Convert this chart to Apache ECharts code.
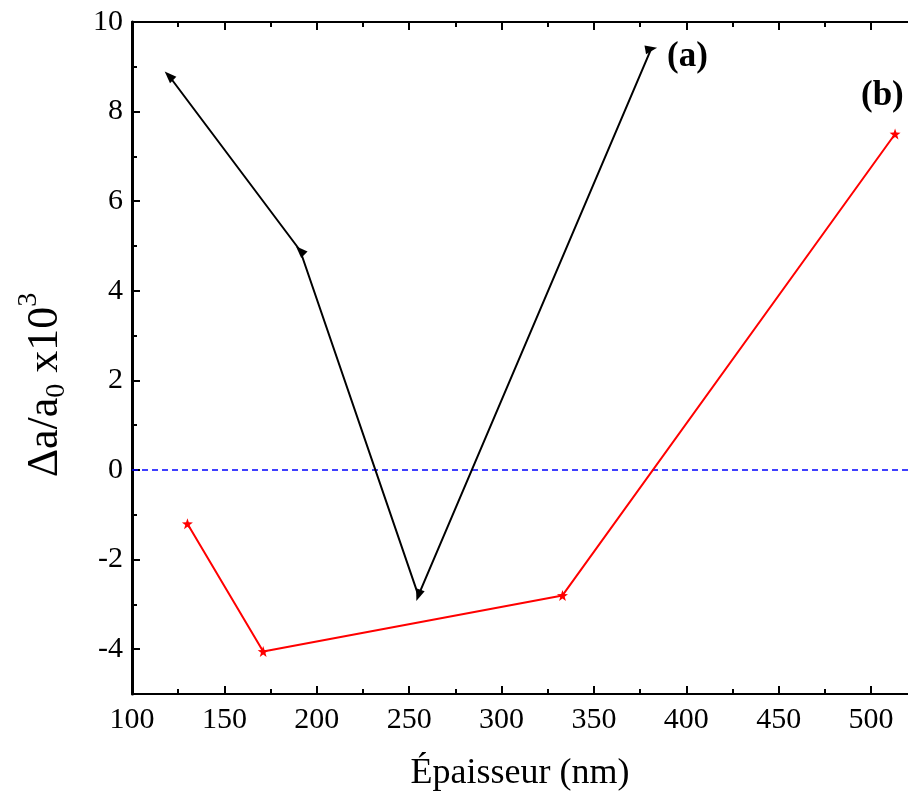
<!DOCTYPE html>
<html>
<head>
<meta charset="utf-8">
<script src="https://cdn.jsdelivr.net/npm/echarts@6/dist/echarts.min.js"></script>
<style>html,body{margin:0;padding:0;background:#fff}#c{width:908px;height:792px}</style>
</head>
<body>
<div id="c"></div>
<script>
// Data
const seriesAX = [120, 191, 255, 381];
const seriesAY = [8.8, 4.9, -2.8, 9.4];
const seriesBX = [130, 171, 333, 513];
const seriesBY = [-1.2, -4.05, -2.8, 7.5];
const xTickLabels = [100, 150, 200, 250, 300, 350, 400, 450, 500];
const yTickLabels = [-4, -2, 0, 2, 4, 6, 8, 10];
const xMinorTicks = [125, 175, 225, 275, 325, 375, 425, 475];
const yMinorTicks = [-3, -1, 1, 3, 5, 7, 9];
const labelA = '(a)';
const labelB = '(b)';

// style: arrow orientations for series (a)
const arrowRot = [45, 45, 160, -80];

const FONT = '"Liberation Serif", "Times New Roman", serif';
const star = 'path://M0,-10 L2.35,-3.24 L9.51,-3.09 L3.8,1.24 L5.88,8.09 L0,4 L-5.88,8.09 L-3.8,1.24 L-9.51,-3.09 L-2.35,-3.24 Z';

const chart = echarts.init(document.getElementById('c'));

const baseX = {type: 'value', min: 100, max: 520, splitLine: {show: false}};
const baseY = {type: 'value', min: -5, max: 10, splitLine: {show: false}};

chart.setOption({
  animation: false,
  backgroundColor: '#fff',
  grid: {left: 132, top: 22, right: 0, bottom: 98, containLabel: false, outerBoundsMode: 'none'},
  xAxis: [
    Object.assign({}, baseX, {
      position: 'bottom',
      axisLine: {show: true, onZero: false, lineStyle: {color: '#000', width: 2}},
      axisTick: {show: true, inside: true, length: 8, lineStyle: {color: '#000', width: 2}, customValues: xTickLabels},
      axisLabel: {show: true, color: '#000', fontFamily: FONT, fontSize: 30, margin: 11, customValues: xTickLabels},
      name: 'Épaisseur (nm)', nameLocation: 'middle', nameGap: 62,
      nameTextStyle: {color: '#000', fontFamily: FONT, fontSize: 36}
    }),
    Object.assign({}, baseX, {
      position: 'bottom',
      axisLine: {show: false, onZero: false},
      axisTick: {show: true, inside: true, length: 5, lineStyle: {color: '#000', width: 2}, customValues: xMinorTicks},
      axisLabel: {show: false}
    }),
    Object.assign({}, baseX, {
      position: 'top',
      axisLine: {show: true, onZero: false, lineStyle: {color: '#000', width: 2}},
      axisTick: {show: true, inside: true, length: 8, lineStyle: {color: '#000', width: 2}, customValues: xTickLabels},
      axisLabel: {show: false}
    }),
    Object.assign({}, baseX, {
      position: 'top',
      axisLine: {show: false, onZero: false},
      axisTick: {show: true, inside: true, length: 5, lineStyle: {color: '#000', width: 2}, customValues: xMinorTicks},
      axisLabel: {show: false}
    })
  ],
  yAxis: [
    Object.assign({}, baseY, {
      position: 'left',
      axisLine: {show: true, onZero: false, lineStyle: {color: '#000', width: 3}},
      axisTick: {show: true, inside: true, length: 8, lineStyle: {color: '#000', width: 2}, customValues: yTickLabels},
      axisLabel: {show: true, color: '#000', fontFamily: FONT, fontSize: 30, margin: 9, customValues: yTickLabels},
      name: '{m|Δa/a}{sub|0}{m| x10}{sup|3}', nameLocation: 'middle', nameGap: 57,
      nameTextStyle: {
        color: '#000', fontFamily: FONT, fontSize: 44, padding: [0, 54, 0, 0],
        rich: {
          m: {fontFamily: FONT, fontSize: 44, color: '#000', lineHeight: 60, verticalAlign: 'middle'},
          sub: {fontFamily: FONT, fontSize: 28, color: '#000', lineHeight: 60, verticalAlign: 'bottom', padding: [0, 0, 4, 0]},
          sup: {fontFamily: FONT, fontSize: 28, color: '#000', lineHeight: 60, verticalAlign: 'top', padding: [0, 0, 0, 0]}
        }
      }
    }),
    Object.assign({}, baseY, {
      position: 'left',
      axisLine: {show: false, onZero: false},
      axisTick: {show: true, inside: true, length: 5, lineStyle: {color: '#000', width: 2}, customValues: yMinorTicks},
      axisLabel: {show: false}
    })
  ],
  series: [
    {
      type: 'line', xAxisIndex: 0, yAxisIndex: 0,
      data: seriesAX.map((x, i) => ({value: [x, seriesAY[i]], symbolRotate: arrowRot[i]})),
      symbol: 'triangle', symbolSize: [9, 12], showAllSymbol: true,
      lineStyle: {color: '#000', width: 2},
      itemStyle: {color: '#000'},
      z: 3
    },
    {
      type: 'line', xAxisIndex: 0, yAxisIndex: 0,
      data: seriesBX.map((x, i) => [x, seriesBY[i]]),
      symbol: star, symbolSize: 11, showAllSymbol: true,
      lineStyle: {color: '#ff0000', width: 2},
      itemStyle: {color: '#ff0000'},
      z: 3
    },
    {
      type: 'line', xAxisIndex: 0, yAxisIndex: 0,
      data: [[100, 0], [520, 0]],
      symbol: 'none',
      lineStyle: {color: '#0000ff', width: 1.5, type: [6, 4]},
      z: 2
    }
  ],
  graphic: [
    {type: 'text', left: 667, top: 39, style: {text: labelA, fontFamily: FONT, fontSize: 35, fontWeight: 'bold', fill: '#000'}},
    {type: 'text', left: 861, top: 78, style: {text: labelB, fontFamily: FONT, fontSize: 35, fontWeight: 'bold', fill: '#000'}}
  ]
});
</script>
</body>
</html>
